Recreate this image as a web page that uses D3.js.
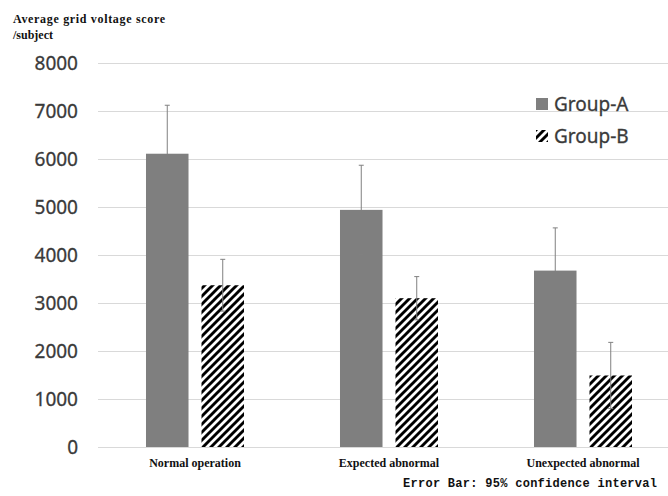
<!DOCTYPE html>
<html>
<head>
<meta charset="utf-8">
<script src="https://cdn.jsdelivr.net/npm/d3@7/dist/d3.min.js"></script>
<style>
  html, body { margin: 0; padding: 0; background: #fff; }
  svg { display: block; }
</style>
</head>
<body>
<svg id="chart" width="668" height="496"></svg>
<script>
// Chart data
const categories = ["Normal operation", "Expected abnormal", "Unexpected abnormal"];
const groups = ["Group-A", "Group-B"];
const groupAValues = [6110, 4940, 3675];
const groupAErrors = [1010, 930, 890];
const groupBValues = [3370, 3100, 1490];
const groupBErrors = [540, 450, 690];
const yTicks = [0, 1000, 2000, 3000, 4000, 5000, 6000, 7000, 8000];

const rows = categories.map((c, i) => ({
  category: c,
  bars: [
    { group: groups[0], value: groupAValues[i], err: groupAErrors[i] },
    { group: groups[1], value: groupBValues[i], err: groupBErrors[i] }
  ]
}));

const svg = d3.select("#chart");
const defs = svg.append("defs");

// Wide upward-diagonal hatch
const pat = defs.append("pattern")
  .attr("id", "hatch")
  .attr("patternUnits", "userSpaceOnUse")
  .attr("width", 8).attr("height", 8);
pat.append("rect").attr("width", 8).attr("height", 8).attr("fill", "#fff");
pat.append("path")
  .attr("d", "M-2,2 L2,-2 M0,8 L8,0 M6,10 L10,6")
  .attr("stroke", "#000").attr("stroke-width", 2.9);

const fillFor = g => g === groups[0] ? "#7f7f7f" : "url(#hatch)";

const plotLeft = 98, plotRight = 680, plotTop = 63, plotBottom = 447;

const y = d3.scaleLinear().domain([0, 8000]).range([plotBottom, plotTop]);
const x = d3.scaleBand().domain(categories).range([plotLeft, plotRight]).padding(0);
const bw = x.bandwidth();
const xi = d3.scaleBand().domain(groups)
  .range([bw * 0.2474, bw * 0.7526]).paddingInner(0.234).paddingOuter(0);

// Gridlines
svg.append("g")
  .attr("transform", `translate(${plotLeft},0)`)
  .call(d3.axisLeft(y).tickValues(yTicks).tickSize(-(668 - plotLeft)).tickFormat(""))
  .call(g => g.select(".domain").remove())
  .call(g => g.selectAll(".tick line").attr("stroke", "#d9d9d9").attr("stroke-width", 1));

// Y tick labels
svg.append("g")
  .attr("transform", `translate(78,0)`)
  .call(d3.axisLeft(y).tickValues(yTicks).tickSize(0).tickPadding(0).tickFormat(d3.format("d")))
  .call(g => g.select(".domain").remove())
  .call(g => g.selectAll(".tick text")
    .attr("font-family", "'Noto Sans', sans-serif")
    .attr("font-size", 19)
    .attr("fill", "#3a3a3a")
    .attr("stroke", "#3a3a3a").attr("stroke-width", 0.3)
    .attr("dy", "0.36em"));

// Bars
const cat = svg.append("g").selectAll("g")
  .data(rows).join("g")
  .attr("transform", d => `translate(${x(d.category)},0)`);

cat.selectAll("rect")
  .data(d => d.bars).join("rect")
  .attr("x", d => xi(d.group))
  .attr("width", xi.bandwidth())
  .attr("y", d => y(d.value))
  .attr("height", d => y(0) - y(d.value))
  .attr("fill", d => fillFor(d.group));

// Error bars (95% CI)
const eb = cat.selectAll("g.err")
  .data(d => d.bars).join("g").attr("class", "err")
  .attr("stroke", "#808080").attr("stroke-width", 1).attr("fill", "none");
eb.append("line")
  .attr("x1", d => xi(d.group) + xi.bandwidth() / 2)
  .attr("x2", d => xi(d.group) + xi.bandwidth() / 2)
  .attr("y1", d => y(d.value + d.err))
  .attr("y2", d => y(d.value - d.err));
[1, -1].forEach(s => {
  eb.append("line")
    .attr("x1", d => xi(d.group) + xi.bandwidth() / 2 - 2.5)
    .attr("x2", d => xi(d.group) + xi.bandwidth() / 2 + 2.5)
    .attr("y1", d => y(d.value + s * d.err))
    .attr("y2", d => y(d.value + s * d.err));
});

// Category labels
svg.append("g").selectAll("text")
  .data(categories).join("text")
  .attr("x", d => x(d) + bw / 2)
  .attr("y", 467)
  .attr("text-anchor", "middle")
  .attr("font-family", "'Liberation Serif', serif")
  .attr("font-weight", "bold")
  .attr("font-size", 12)
  .attr("fill", "#111")
  .text(d => d);

// Axis title
const title = svg.append("text")
  .attr("font-family", "'Liberation Serif', serif")
  .attr("font-weight", "bold")
  .attr("font-size", 12)
  .attr("fill", "#111");
title.append("tspan").attr("x", 13).attr("y", 23).attr("textLength", 152).text("Average grid voltage score");
title.append("tspan").attr("x", 13).attr("y", 39).text("/subject");

// Legend
const legend = svg.append("g").selectAll("g")
  .data(groups).join("g")
  .attr("transform", (d, i) => `translate(536,${98 + i * 32})`);
legend.append("rect")
  .attr("width", 12).attr("height", 12)
  .attr("fill", d => fillFor(d));
legend.append("text")
  .attr("x", 18).attr("y", 13)
  .attr("font-family", "'Noto Sans', sans-serif")
  .attr("font-size", 19)
  .attr("fill", "#3a3a3a")
  .attr("stroke", "#3a3a3a").attr("stroke-width", 0.3)
  .text(d => d);

// Footnote
svg.append("text")
  .attr("x", 403).attr("y", 487)
  .attr("textLength", 254)
  .attr("font-family", "'Liberation Mono', monospace")
  .attr("font-weight", "bold")
  .attr("font-size", 12)
  .attr("fill", "#111")
  .text("Error Bar: 95% confidence interval");
</script>
</body>
</html>
